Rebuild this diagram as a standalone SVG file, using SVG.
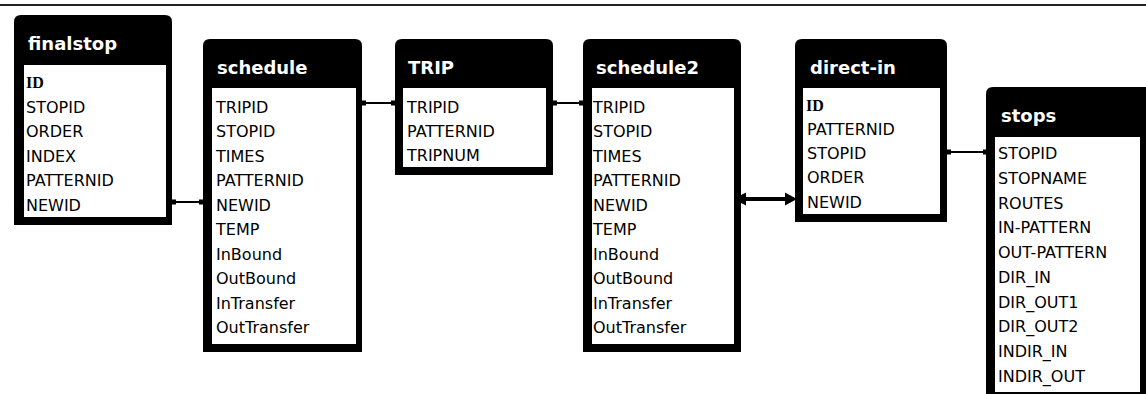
<svg xmlns="http://www.w3.org/2000/svg" width="1146" height="394" viewBox="0 0 1146 394">
<style>
.frame{fill:#000}
.body{fill:#fff}
.hd{font-family:"DejaVu Sans",Verdana,sans-serif;font-weight:bold;font-size:18px;fill:#fff}
.fd{font-family:"DejaVu Sans",Verdana,sans-serif;font-size:16px;fill:#000}
.key{font-family:"Liberation Serif","Times New Roman",serif;font-weight:bold;font-size:16px;fill:#000}
.ln{stroke:#000;stroke-width:2;fill:none}
.thick{stroke:#000;stroke-width:4;fill:none}
.dot{fill:#000}
</style>
<rect width="1146" height="394" fill="#fff"/>
<line x1="0" y1="5" x2="1146" y2="5" stroke="#222" stroke-width="2"/>

<g id="connectors">
  <line class="ln" x1="172" y1="202" x2="203" y2="202"/>
  <rect class="dot" x="172" y="199.5" width="4" height="5"/>
  <rect class="dot" x="199" y="199.5" width="4" height="5"/>
  <line class="ln" x1="362" y1="103" x2="395" y2="103"/>
  <rect class="dot" x="362" y="100.5" width="4" height="5"/>
  <rect class="dot" x="391" y="100.5" width="4" height="5"/>
  <line class="ln" x1="553" y1="103" x2="583" y2="103"/>
  <rect class="dot" x="553" y="100.5" width="4" height="5"/>
  <rect class="dot" x="579" y="100.5" width="4" height="5"/>
  <line class="thick" x1="744" y1="199" x2="788" y2="199"/>
  <polygon class="dot" points="733,199 746,192.5 746,205.5"/>
  <polygon class="dot" points="797,199 785,192.5 785,205.5"/>
  <line class="ln" x1="947" y1="152" x2="987" y2="152"/>
  <rect class="dot" x="947" y="149.5" width="4" height="5"/>
  <rect class="dot" x="983" y="149.5" width="4" height="5"/>
</g>

<g id="finalstop">
  <path class="frame" d="M14,22 Q14,15 21,15 H165 Q172,15 172,22 V225 H14 Z"/>
  <rect class="body" x="24" y="65" width="142" height="152"/>
  <text class="hd" x="28" y="50">finalstop</text>
  <text class="key" x="26" y="88">ID</text>
  <text class="fd" x="26" y="113">STOPID</text>
  <text class="fd" x="26" y="137.4">ORDER</text>
  <text class="fd" x="26" y="161.8">INDEX</text>
  <text class="fd" x="26" y="186.2">PATTERNID</text>
  <text class="fd" x="26" y="210.6">NEWID</text>
</g>

<g id="schedule">
  <path class="frame" d="M203,46 Q203,39 210,39 H355 Q362,39 362,46 V352 H203 Z"/>
  <rect class="body" x="212" y="88" width="144" height="256"/>
  <text class="hd" x="217" y="74">schedule</text>
  <text class="fd" x="216" y="112.7">TRIPID</text>
  <text class="fd" x="216" y="137.2">STOPID</text>
  <text class="fd" x="216" y="161.7">TIMES</text>
  <text class="fd" x="216" y="186.2">PATTERNID</text>
  <text class="fd" x="216" y="210.7">NEWID</text>
  <text class="fd" x="216" y="235.2">TEMP</text>
  <text class="fd" x="216" y="259.7">InBound</text>
  <text class="fd" x="216" y="284.2">OutBound</text>
  <text class="fd" x="216" y="308.7">InTransfer</text>
  <text class="fd" x="216" y="333.2">OutTransfer</text>
</g>

<g id="TRIP">
  <path class="frame" d="M395,46 Q395,39 402,39 H546 Q553,39 553,46 V175 H395 Z"/>
  <rect class="body" x="403" y="88" width="143" height="79"/>
  <text class="hd" x="408" y="74">TRIP</text>
  <text class="fd" x="407" y="112.5">TRIPID</text>
  <text class="fd" x="407" y="136.8">PATTERNID</text>
  <text class="fd" x="407" y="161.1">TRIPNUM</text>
</g>

<g id="schedule2">
  <path class="frame" d="M583,46 Q583,39 590,39 H734 Q741,39 741,46 V352 H583 Z"/>
  <rect class="body" x="592" y="88" width="142" height="256"/>
  <text class="hd" x="596" y="74">schedule2</text>
  <text class="fd" x="593" y="112.7">TRIPID</text>
  <text class="fd" x="593" y="137.2">STOPID</text>
  <text class="fd" x="593" y="161.7">TIMES</text>
  <text class="fd" x="593" y="186.2">PATTERNID</text>
  <text class="fd" x="593" y="210.7">NEWID</text>
  <text class="fd" x="593" y="235.2">TEMP</text>
  <text class="fd" x="593" y="259.7">InBound</text>
  <text class="fd" x="593" y="284.2">OutBound</text>
  <text class="fd" x="593" y="308.7">InTransfer</text>
  <text class="fd" x="593" y="333.2">OutTransfer</text>
</g>

<g id="direct-in">
  <path class="frame" d="M795,46 Q795,39 802,39 H940 Q947,39 947,46 V222 H795 Z"/>
  <rect class="body" x="803" y="88" width="137" height="126"/>
  <text class="hd" x="810" y="74">direct-in</text>
  <text class="key" x="806" y="110.5">ID</text>
  <text class="fd" x="807" y="134.8">PATTERNID</text>
  <text class="fd" x="807" y="159.1">STOPID</text>
  <text class="fd" x="807" y="183.4">ORDER</text>
  <text class="fd" x="807" y="207.7">NEWID</text>
</g>

<g id="stops">
  <path class="frame" d="M986,94 Q986,87 993,87 H1146 V394 H986 Z"/>
  <rect class="body" x="995" y="137" width="145" height="255"/>
  <text class="hd" x="1001" y="122">stops</text>
  <text class="fd" x="998" y="159.3">STOPID</text>
  <text class="fd" x="998" y="184">STOPNAME</text>
  <text class="fd" x="998" y="208.7">ROUTES</text>
  <text class="fd" x="998" y="233.4">IN-PATTERN</text>
  <text class="fd" x="998" y="258.1">OUT-PATTERN</text>
  <text class="fd" x="998" y="282.8">DIR_IN</text>
  <text class="fd" x="998" y="307.5">DIR_OUT1</text>
  <text class="fd" x="998" y="332.2">DIR_OUT2</text>
  <text class="fd" x="998" y="356.9">INDIR_IN</text>
  <text class="fd" x="998" y="381.6">INDIR_OUT</text>
</g>
</svg>
